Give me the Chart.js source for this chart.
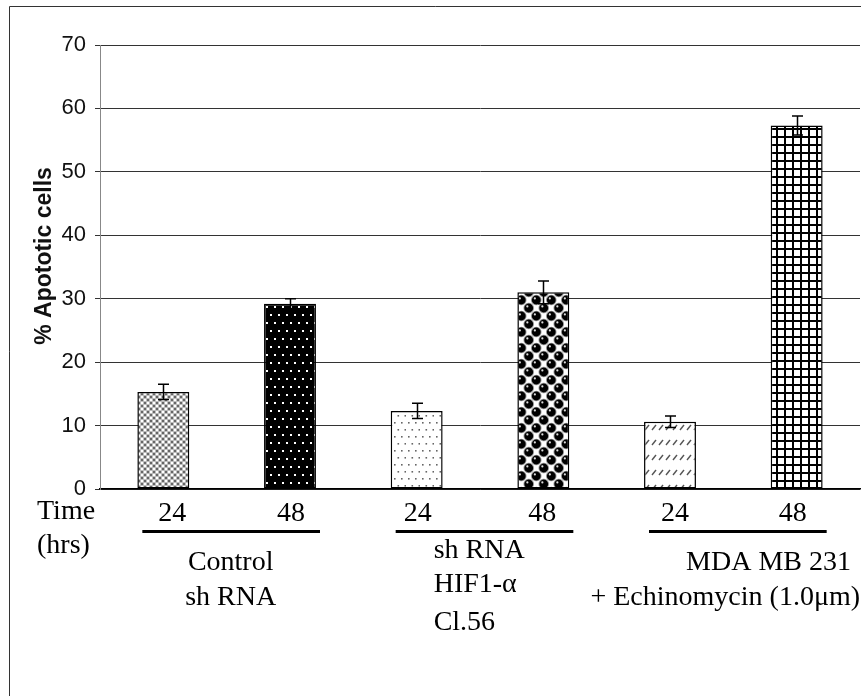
<!DOCTYPE html>
<html>
<head>
<meta charset="utf-8">
<script src="https://cdn.jsdelivr.net/npm/chart.js@4/dist/chart.umd.min.js"></script>
<style>
  html, body { margin: 0; padding: 0; background: #fff; }
  canvas { display: block; }
</style>
</head>
<body>
<canvas id="chartApoptosis" width="861" height="696"></canvas>
<script>
// data
const categories = ['24', '48', '24', '48', '24', '48'];
const apoptoticCells = [15.3, 29.2, 12.3, 31.0, 10.6, 57.3];
const errorValues = [1.2, 0.8, 1.2, 1.8, 0.9, 1.5];
const yTickValues = [0, 10, 20, 30, 40, 50, 60, 70];
const yTitle = '% Apototic cells';
const timeLabel = ['Time', '(hrs)'];
const groupLabels = [
    ['Control', 'sh RNA'],
    ['sh RNA', 'HIF1-α', 'Cl.56'],
    ['MDA MB 231', '+ Echinomycin (1.0μm)']
];

const serif = "'Liberation Serif', 'Times New Roman', serif";
const sans = "'Liberation Sans', Arial, sans-serif";

// fill patterns for the bars
const makeTile = (w, h, draw) => {
    const c = document.createElement('canvas');
    c.width = w;
    c.height = h;
    const g = c.getContext('2d');
    draw(g, w, h);
    return c;
};

const canvas = document.getElementById('chartApoptosis');
const context = canvas.getContext('2d');

const tiles = [
    // grey crosshatch
    makeTile(6, 6, (g) => {
        g.fillStyle = '#bdbdbd';
        g.fillRect(0, 0, 6, 6);
        g.fillStyle = '#666';
        g.fillRect(0, 0, 2, 2);
        g.fillRect(3, 3, 2, 2);
        g.fillStyle = '#ffffff';
        g.fillRect(3, 0, 2, 2);
        g.fillRect(0, 3, 2, 2);
    }),
    // black with white dots
    makeTile(16, 16, (g) => {
        g.fillStyle = '#000';
        g.fillRect(0, 0, 16, 16);
        g.fillStyle = '#fff';
        [[2, 2], [10, 2], [6, 10], [14, 10]].forEach(([x, y]) => g.fillRect(x, y, 2, 2));
    }),
    // white with grey dots
    makeTile(14, 14, (g) => {
        g.fillStyle = '#fff';
        g.fillRect(0, 0, 14, 14);
        g.fillStyle = '#666';
        [[2, 2], [9, 2], [5.5, 9], [12.5, 9]].forEach(([x, y]) => g.fillRect(x, y, 1.6, 1.6));
    }),
    // black spheres
    makeTile(15, 16, (g) => {
        g.fillStyle = '#fff';
        g.fillRect(0, 0, 15, 16);
        g.fillStyle = '#999';
        const centres = [[3.75, 4], [11.25, 12], [18.75, 4], [-3.75, 12], [3.75, 20], [11.25, -4]];
        centres.forEach(([x, y]) => {
            g.beginPath();
            g.arc(x, y, 5.3, 0, Math.PI * 2);
            g.fill();
        });
        centres.forEach(([x, y]) => {
            g.fillStyle = '#000';
            g.beginPath();
            g.arc(x, y, 4.4, 0, Math.PI * 2);
            g.fill();
            g.fillStyle = '#ddd';
            g.beginPath();
            g.arc(x - 1.4, y - 1.6, 1.1, 0, Math.PI * 2);
            g.fill();
        });
    }),
    // white with short diagonal dashes
    makeTile(7, 15, (g) => {
        g.fillStyle = '#fff';
        g.fillRect(0, 0, 7, 15);
        g.strokeStyle = '#555';
        g.lineWidth = 1.4;
        g.beginPath();
        g.moveTo(1, 10);
        g.lineTo(5, 5);
        g.stroke();
    }),
    // black grid
    makeTile(8, 8, (g) => {
        g.fillStyle = '#fff';
        g.fillRect(0, 0, 8, 8);
        g.fillStyle = '#000';
        g.fillRect(0, 0, 2, 8);
        g.fillRect(0, 0, 8, 2);
    })
];
const barFills = tiles.map(t => context.createPattern(t, 'repeat'));

// white page and the frame round it
const framePlugin = {
    id: 'frame',
    beforeDraw(chart) {
        const ctx = chart.ctx;
        ctx.save();
        ctx.fillStyle = '#fff';
        ctx.fillRect(0, 0, chart.width, chart.height);
        ctx.strokeStyle = '#333';
        ctx.lineWidth = 1;
        ctx.beginPath();
        ctx.moveTo(9.5, chart.height);
        ctx.lineTo(9.5, 6.5);
        ctx.lineTo(chart.width, 6.5);
        ctx.stroke();
        ctx.restore();
    }
};

// error bars from errorValues
const errorBarPlugin = {
    id: 'errorBars',
    afterDatasetsDraw(chart) {
        const ctx = chart.ctx;
        const yScale = chart.scales.y;
        const meta = chart.getDatasetMeta(0);
        ctx.save();
        ctx.strokeStyle = '#000';
        ctx.lineWidth = 1.5;
        meta.data.forEach((bar, i) => {
            const v = apoptoticCells[i];
            const top = yScale.getPixelForValue(v + errorValues[i]);
            const bottom = yScale.getPixelForValue(v - errorValues[i]);
            const x = Math.round(bar.x) + 0.5;
            ctx.beginPath();
            ctx.moveTo(x, top);
            ctx.lineTo(x, bottom);
            ctx.moveTo(x - 5.5, top);
            ctx.lineTo(x + 5.5, top);
            ctx.moveTo(x - 5.5, bottom);
            ctx.lineTo(x + 5.5, bottom);
            ctx.stroke();
        });
        ctx.restore();
    }
};

// y title and the text block under the axis
const lowerTextPlugin = {
    id: 'lowerText',
    afterDraw(chart) {
        const ctx = chart.ctx;
        const xScale = chart.scales.x;
        const base = chart.chartArea.bottom;
        const px = (i) => xScale.getPixelForValue(i);
        const text = (s, x, y, align) => {
            ctx.textAlign = align;
            ctx.fillText(s, x, y);
        };
        ctx.save();
        ctx.fillStyle = '#111';
        ctx.textBaseline = 'middle';
        ctx.font = 'bold 23px ' + sans;
        ctx.translate(45, 256);
        ctx.rotate(-Math.PI / 2);
        text(yTitle, 0, 0, 'center');
        ctx.restore();

        ctx.save();
        ctx.fillStyle = '#000';
        ctx.textBaseline = 'alphabetic';
        ctx.font = '28px ' + serif;

        text(timeLabel[0], 37, base + 30, 'left');
        text(timeLabel[1], 37, base + 64, 'left');

        const nudge = [9, 1, 1, -1, 5, -4];
        categories.forEach((c, i) => text(c, px(i) + nudge[i], base + 32, 'center'));

        for (let g = 0; g < 3; g++) {
            const a = px(2 * g) - 21;
            const b = px(2 * g + 1) + 30;
            ctx.fillRect(a, base + 41, b - a, 3);
        }

        const mid0 = (px(0) + px(1)) / 2 + 4;
        text(groupLabels[0][0], mid0, base + 81, 'center');
        text(groupLabels[0][1], mid0, base + 116, 'center');

        const left1 = px(2) + 17;
        text(groupLabels[1][0], left1, base + 69, 'left');
        text(groupLabels[1][1], left1, base + 103, 'left');
        text(groupLabels[1][2], left1, base + 141, 'left');

        text(groupLabels[2][0], 851, base + 81, 'right');
        text(groupLabels[2][1], 860, base + 116, 'right');
        ctx.restore();
    }
};

const chartApoptosis = new Chart(context, {
    type: 'bar',
    data: {
        labels: categories,
        datasets: [
            {
                label: yTitle,
                data: apoptoticCells,
                backgroundColor: barFills,
                borderColor: '#000',
                borderWidth: 1.5,
                borderSkipped: false,
                barPercentage: 0.41,
                categoryPercentage: 1
            }
        ]
    },
    options: {
        responsive: false,
        animation: false,
        layout: { padding: { left: 28, right: 1, top: 45, bottom: 0 } },
        plugins: {
            legend: { display: false },
            tooltip: { enabled: false }
        },
        scales: {
            x: {
                grid: { display: false },
                border: { color: '#000', width: 1.5 },
                ticks: { display: false },
                afterFit: (scale) => { scale.height = 207; }
            },
            y: {
                min: 0,
                max: 70,
                afterBuildTicks: (scale) => {
                    scale.ticks = yTickValues.map(v => ({ value: v }));
                },
                ticks: {
                    font: { family: sans, size: 22 },
                    color: '#111',
                    padding: 9
                },
                grid: { color: '#333', lineWidth: 1, tickLength: 5 },
                border: { color: '#888', width: 1 },
                afterFit: (scale) => { scale.width = 72; }
            }
        }
    },
    plugins: [framePlugin, errorBarPlugin, lowerTextPlugin]
});
</script>
</body>
</html>
